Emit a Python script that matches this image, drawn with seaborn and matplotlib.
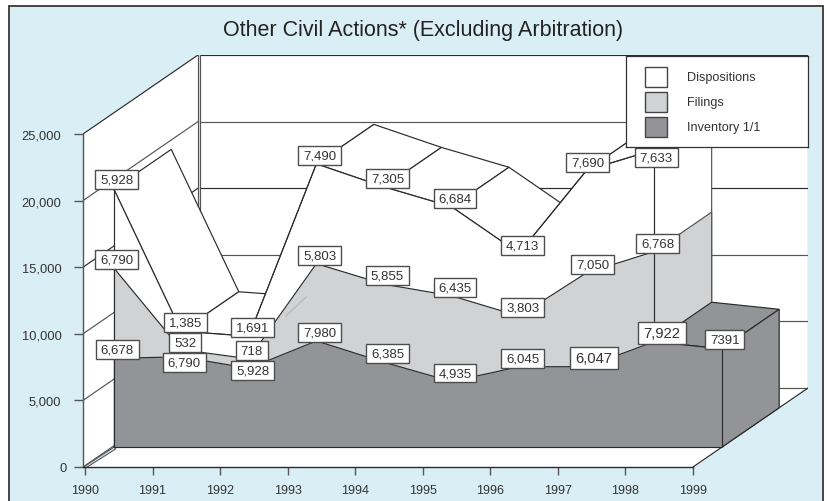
"""Other civil actions, drawn as a hand-projected 3D stacked area on a seaborn axes."""

import matplotlib.pyplot as plt
import numpy as np
import seaborn as sns
from matplotlib.patches import Rectangle
from matplotlib.path import Path
from matplotlib.transforms import ScaledTranslation

TITLE = "Other Civil Actions* (Excluding Arbitration)"
years = [1990, 1991, 1992, 1993, 1994, 1995, 1996, 1997, 1998, 1999]
inventory = [6678, 6790, 5928, 7980, 6385, 4935, 6045, 6047, 7922, 7391]
filings = [6790, 532, 718, 5803, 5855, 6435, 3803, 7050, 6768]
dispositions = [5928, 1385, 1691, 7490, 7305, 6684, 4713, 7690, 7633]
value_ticks = [0, 5000, 10000, 15000, 20000, 25000]
legend_labels = ["Dispositions", "Filings", "Inventory 1/1"]

BG = "#DAEEF5"
FILINGS_COLOR = "#D1D2D4"
INVENTORY_COLOR = "#929497"
LINE = "#2b2b2b"
GRID = "#555555"
TEXT = "#333333"
LW = 0.85

# figure size in pixels and scale of the axes
W, H = 827, 502
PX_PER_YEAR = 67.55
PX_PER_VALUE = 0.01332
# the whole depth of the box, in data units
DEPTH_X = 115 / PX_PER_YEAR
DEPTH_Y = 79 / PX_PER_VALUE
FRONT, BACK = 0.25, 0.75


def project(x, y, depth):
    """Shift a data point back into the box."""
    return np.asarray(x) + DEPTH_X * depth, np.asarray(y) + DEPTH_Y * depth


def face(ax, corners, color, zorder, edge=LINE, lw=LW):
    xs, ys = zip(*corners)
    ax.fill(xs, ys, facecolor=color, edgecolor=edge, linewidth=lw, zorder=zorder, joinstyle="miter")


def top_quad(x0, y0, x1, y1):
    """Corners of the sloped top face between two neighbouring years."""
    return [
        project(x0, y0, FRONT),
        project(x0, y0, BACK),
        project(x1, y1, BACK),
        project(x1, y1, FRONT),
    ]


def side_quad(x, y):
    """Corners of the end face of a band, down to the box floor."""
    return [project(x, y, FRONT), project(x, y, BACK), project(x, 0, BACK), project(x, 0, FRONT)]


def draw_band(ax, xs, top, color, zorder):
    fx, fy = project(xs, top, FRONT)
    _, base = project(xs, np.zeros(len(xs)), FRONT)
    ax.fill_between(fx, base, fy, color=color, linewidth=0, zorder=zorder)
    sns.lineplot(x=fx, y=fy, ax=ax, color=LINE, linewidth=LW, zorder=zorder + 0.1, legend=False)
    ax.plot([fx[0], fx[0]], [fy[0], base[0]], color=LINE, lw=LW, zorder=zorder + 0.1)


def wide_box(x0, y0, width, height, mutation_size):
    """Label box with more padding at the sides than above and below."""
    px, py = 0.37 * mutation_size, 0.26 * mutation_size
    x0, x1 = x0 - px, x0 + width + px
    y0, y1 = y0 - py, y0 + height + py
    return Path([(x0, y0), (x1, y0), (x1, y1), (x0, y1), (x0, y0)], closed=True)


def label_points(ax, xs, tops, values, nudges, big=()):
    fx, fy = project(xs, tops, FRONT)
    for i, value in enumerate(values):
        dx, dy = nudges.get(i, (3.5, -8.5))
        text = str(value) if i == 9 else f"{value:,}"
        ax.annotate(
            text,
            (fx[i], fy[i]),
            xytext=(dx * 0.72, -dy * 0.72),
            textcoords="offset points",
            ha="center",
            va="center",
            fontsize=10.6 if i in big else 9.5,
            color=TEXT,
            zorder=20,
            bbox=dict(boxstyle=wide_box, fc="white", ec="#4d4d4d", lw=1.0),
        )


sns.set_theme(style="ticks")
plt.rcParams["font.family"] = ["Liberation Sans", "DejaVu Sans"]

fig = plt.figure(figsize=(W / 100, H / 100), dpi=100, facecolor="white")
fig.add_artist(
    Rectangle((8.5 / W, -0.01), (822.5 - 8.5) / W, 1 - 6.5 / H + 0.01, transform=fig.transFigure,
              facecolor=BG, edgecolor="#444444", linewidth=1.4, zorder=-1)
)

ax = fig.add_axes([83 / W, (H - 468) / H, (808 - 83) / W, (468 - 56) / H])
ax.patch.set_alpha(0)
ax.set_xlim(1990 - 2 / PX_PER_YEAR, 1990 + 723 / PX_PER_YEAR)
ax.set_ylim(0, 412 / PX_PER_VALUE)
ax.autoscale(False)

x_all = np.array(years, dtype=float)
x_stack = x_all[:-1]
inv = np.array(inventory, dtype=float)
fil = inv[:-1] + np.array(filings, dtype=float)
dis = fil + np.array(dispositions, dtype=float)

# box walls and floor
x_l = x_all[0] - 2 / PX_PER_YEAR
x_b = x_l + DEPTH_X
gap = 2.2 / PX_PER_YEAR
y_top = value_ticks[-1]
face(ax, [(x_l, 0), (x_l, y_top), (x_b, y_top + DEPTH_Y), (x_b, DEPTH_Y)], "white", 1, edge="none")
face(ax, [(x_b + gap, DEPTH_Y), (x_b + gap, y_top + DEPTH_Y),
          (x_all[-1] + DEPTH_X, y_top + DEPTH_Y), (x_all[-1] + DEPTH_X, DEPTH_Y)], "white", 1, edge="none")
face(ax, [(x_l, 0), (x_all[-1], 0), (x_all[-1] + DEPTH_X, DEPTH_Y), (x_b + gap, DEPTH_Y)], "white", 1, edge="none")

for v in value_ticks:
    color = LINE if v in (15000, 25000) else GRID
    ax.plot([x_l, x_b], [v, v + DEPTH_Y], color=color, lw=LW, zorder=2)
    ax.plot([x_b + gap, x_all[-1] + DEPTH_X], [v + DEPTH_Y, v + DEPTH_Y], color=color, lw=LW, zorder=2)
ax.plot([x_b, x_b], [DEPTH_Y, y_top + DEPTH_Y], color=GRID, lw=LW, zorder=2)
ax.plot([x_b + gap, x_b + gap], [DEPTH_Y, y_top + DEPTH_Y], color=GRID, lw=LW, zorder=2)
ax.plot([x_all[-1], x_all[-1] + DEPTH_X], [0, DEPTH_Y], color=LINE, lw=LW, zorder=2)
ax.plot([x_all[-1] + DEPTH_X] * 2, [DEPTH_Y, y_top + DEPTH_Y], color=GRID, lw=LW, zorder=2)

# double line running from the front corner to the band
fx0, fy0 = project(x_all[0], 0, FRONT)
face(ax, [(x_l + 0.01, 0), (fx0, fy0), (fx0 + 0.03, fy0 - 120), (x_l + 0.05, -40)], BG, 2.5, edge=GRID, lw=0.8)

# dispositions: white prism, painted left to right so later faces hide earlier ridges
for i in range(len(x_stack) - 1):
    face(ax, top_quad(x_stack[i], dis[i], x_stack[i + 1], dis[i + 1]), "white", 3 + i * 0.01)
face(ax, side_quad(x_stack[-1], dis[-1]), "white", 3.5, edge=GRID)
draw_band(ax, x_stack, dis, "white", 4)
ax.plot(*zip(project(x_stack[-1], dis[-1], FRONT), project(x_stack[-1], 0, FRONT)), color=LINE, lw=LW, zorder=4.2)

# filings
face(ax, side_quad(x_stack[-1], fil[-1]), FILINGS_COLOR, 5, edge=GRID)
draw_band(ax, x_stack, fil, FILINGS_COLOR, 5.1)
ax.plot(*zip(project(x_stack[-1], fil[-1], FRONT), project(x_stack[-1], 0, FRONT)), color=LINE, lw=LW, zorder=5.2)

# faint leftover edge behind the 1992 ridge
sx, sy = project(x_stack[2], dis[2], BACK)
ex, ey = project(x_stack[2], dis[2], BACK - 0.18)
ax.plot([sx, ex], [sy, ey - 400], color="#b5b5b5", lw=0.8, zorder=5.3)

# inventory
face(ax, top_quad(x_all[-2], inv[-2], x_all[-1], inv[-1]), INVENTORY_COLOR, 6)
face(ax, side_quad(x_all[-1], inv[-1]), INVENTORY_COLOR, 6)
draw_band(ax, x_all, inv, INVENTORY_COLOR, 6.1)
fx_all, fy_all = project(x_all, inv, FRONT)
_, base_all = project(x_all, np.zeros(len(x_all)), FRONT)
ax.plot(fx_all, base_all, color=LINE, lw=LW, zorder=6.3)
ax.plot([fx_all[-1], fx_all[-1]], [fy_all[-1], base_all[-1]], color=LINE, lw=LW, zorder=6.3)

# data labels, nudged off the points (pixels) where the default would collide
label_points(ax, x_stack, dis, dispositions, {1: (4, -9), 6: (3, -8), 7: (1, -8), 8: (2, 7.5), 0: (3, -9)})
label_points(ax, x_stack, fil, filings, {0: (3, -8), 1: (4, -7), 2: (3, -8), 7: (6, -8.5)})
label_points(ax, x_all, inv, inventory, {1: (3, 6), 2: (4, 2), 7: (7, -9), 8: (8, -9), 9: (3, -9)}, big=(7, 8))

# axis furniture
sns.despine(ax=ax, top=True, right=True)
ax.spines["left"].set_bounds(0, y_top)
ax.spines["bottom"].set_bounds(x_l, x_all[-1])
ax.spines["left"].set_color(GRID)
ax.spines["bottom"].set_color(LINE)
ax.spines["left"].set_linewidth(1.0)
ax.spines["bottom"].set_linewidth(1.0)
ax.spines["left"].set_zorder(3)
ax.spines["bottom"].set_zorder(3)
ax.set_xticks(years)
ax.set_yticks(value_ticks)
ax.set_yticklabels([f"{v:,}" for v in value_ticks])
ax.tick_params(axis="x", direction="out", length=5.8, width=1.0, color=GRID, labelsize=9, labelcolor=TEXT, pad=6.5)
ax.tick_params(axis="y", direction="out", length=6.5, width=1.0, color=GRID, labelsize=9.3, labelcolor=TEXT, pad=9)
ax.set_xlabel("")
ax.set_ylabel("")
# the zero sits a little closer to the axis than the other value labels
zero_label = ax.get_yticklabels()[0]
zero_label.set_transform(zero_label.get_transform() + ScaledTranslation(5 / 100, 0, fig.dpi_scale_trans))

fig.text(423.5 / W, 1 - 30.5 / H, TITLE, ha="center", va="center", fontsize=15.5, color="#222222")

# legend box, placed by hand over the back wall
lax = fig.add_axes([625.7 / W, (H - 148) / H, (808 - 625.7) / W, (148 - 57) / H], zorder=5)
lax.set_xlim(625.7, 808)
lax.set_ylim(148, 57)
lax.set_xticks([])
lax.set_yticks([])
lax.set_facecolor("white")
for spine in lax.spines.values():
    spine.set_color("#333333")
    spine.set_linewidth(0.9)
swatches = ["white", FILINGS_COLOR, INVENTORY_COLOR]
for row, (label, color) in enumerate(zip(legend_labels, swatches)):
    top = 67.5 + row * 25.2
    lax.add_patch(Rectangle((645.3, top), 21.4, 20.5, facecolor=color, edgecolor="#444444", linewidth=1.0))
    lax.text(687.5, top + 10.3, label, va="center", ha="left", fontsize=9.1, color=TEXT)

fig.savefig("out.png", dpi=100)
plt.close(fig)
